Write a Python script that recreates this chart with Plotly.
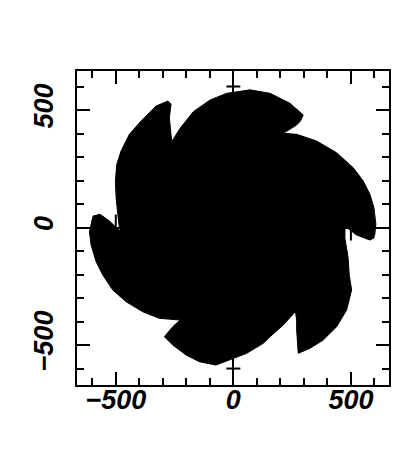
import plotly.graph_objects as go

# Outline of the pinwheel-shaped point cloud (data units), traced clockwise
outline_x = [-477.5, -484.7, -491.5, -498.7, -501.7, -495.8, -477.5, -442.2, -392.5, -328.7,
             -277.7, -265.0, -272.2, -265.0, -262.0,
             -226.7, -170.2, -99.2, -28.3, 70.8, 155.8, 240.8, 297.3, 285.0, 269.2, 212.3,
             269.2, 354.2,
             439.2, 509.8, 552.3, 580.8, 597.8, 606.3, 597.8, 580.8, 524.2, 474.5,
             474.5, 488.5, 492.8, 503.0, 481.7, 439.2, 382.3, 325.8, 276.0, 269.2,
             269.2, 264.1, 212.3, 155.8, 127.3, 56.7, -14.2, -73.7, -144.7, -201.2, -257.8,
             -293.5, -257.8, -226.7, -314.7, -385.3, -456.2, -512.8, -555.3, -583.7, -605.0,
             -612.2, -596.5, -566.7, -527.2]
outline_y = [-19.0, -1.0, 56.0, 126.8, 197.9, 268.9, 325.5, 396.6, 453.2, 517.0,
             538.3, 525.5, 467.2, 382.1, 365.1,
             422.1, 492.7, 542.5, 571.0, 585.8, 571.0, 528.5, 478.7, 453.0, 436.1, 400.8,
             396.6, 368.1,
             318.3, 254.4, 197.9, 141.3, 84.2, 13.6, -44.7, -53.2, -31.9, 6.4,
             -46.0, -131.0, -202.1, -265.9, -351.0, -422.1, -478.7, -514.0, -535.3, -436.1,
             -393.6, -357.4, -414.9, -464.6, -492.7, -535.3, -563.8, -585.1, -571.0, -542.5, -500.0,
             -464.6, -422.1, -393.6, -386.4, -358.3, -315.7, -265.9, -202.1, -145.5, -74.5,
             -17.9, 48.9, 56.2, 27.7]

axis_ticks = [-600, -500, -400, -300, -200, -100, 100, 200, 300, 400, 500, 600]
major_ticks = [-500, 500]
x_range = [-665, 662]
y_range = [-670, 666]

fig = go.Figure()
fig.add_trace(go.Scatter(
    x=outline_x + outline_x[:1], y=outline_y + outline_y[:1],
    mode="lines", fill="toself", fillcolor="black",
    line=dict(color="black", width=1), hoverinfo="skip", showlegend=False))

shapes = []
for v in axis_ticks:
    half = 13 if v in major_ticks else 7
    shapes.append(dict(type="line", xref="x", yref="y", xsizemode="pixel", xanchor=0,
                       x0=-half, x1=half, y0=v, y1=v, line=dict(color="black", width=2)))
    shapes.append(dict(type="line", xref="x", yref="y", ysizemode="pixel", yanchor=0,
                       y0=-half, y1=half, x0=v, x1=v, line=dict(color="black", width=2)))

tickfont = dict(family="Liberation Sans", size=27, weight="bold", style="italic", color="black")
common = dict(showgrid=False, zeroline=True, zerolinewidth=2, zerolinecolor="black",
              showline=True, linewidth=2, linecolor="black", mirror="ticks",
              ticks="inside", ticklen=13, tickwidth=2, tickcolor="black",
              tick0=0, dtick=500, tickfont=tickfont, fixedrange=True, automargin=False,
              minor=dict(dtick=100, ticks="inside", ticklen=7, tickwidth=2,
                         tickcolor="black", showgrid=False))

# the page body has an 8px default margin, so the figure is 8px smaller
fig.update_layout(
    width=409, height=463,
    margin=dict(l=69, r=28, t=63, b=86),
    paper_bgcolor="white", plot_bgcolor="white",
    shapes=shapes,
    xaxis=dict(range=x_range, ticklabelstandoff=-10, **common),
    yaxis=dict(range=y_range, tickangle=-90, ticklabelstandoff=11, **common),
)
fig.write_html("out.html")
